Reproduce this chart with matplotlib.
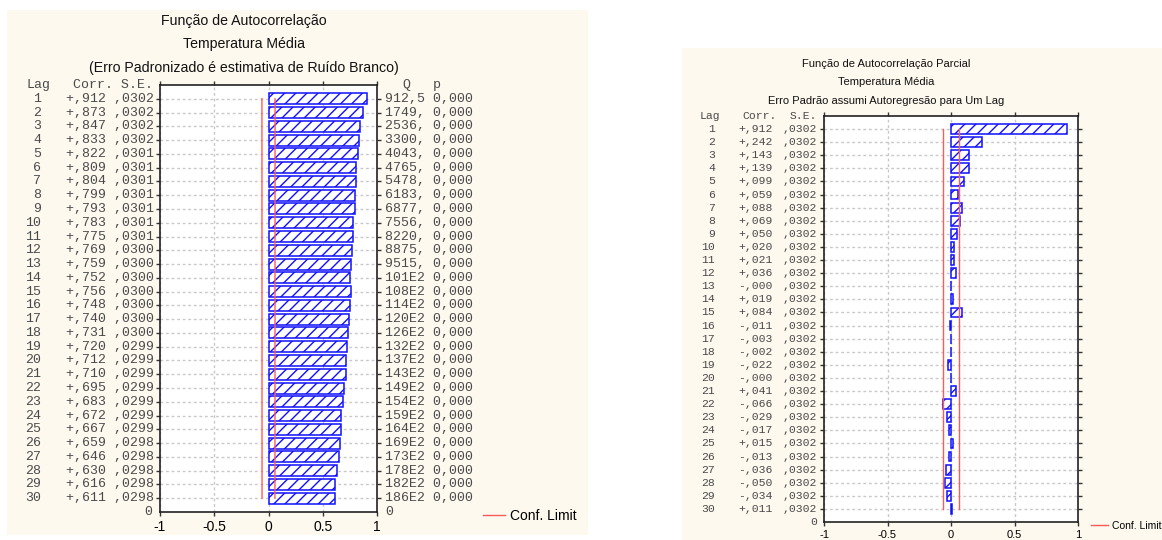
import numpy as np
import matplotlib
matplotlib.use('Agg')
import matplotlib.pyplot as plt
import matplotlib.transforms as mtrans
from matplotlib.patches import Rectangle

# ACF data (left panel)
lags = np.arange(1, 31)
acf = [.912, .873, .847, .833, .822, .809, .804, .799, .793, .783,
       .775, .769, .759, .752, .756, .748, .740, .731, .720, .712,
       .710, .695, .683, .672, .667, .659, .646, .630, .616, .611]
acf_se = [.0302] * 4 + [.0301] * 7 + [.0300] * 7 + [.0299] * 7 + [.0298] * 5
acf_q = ['912,5', '1749,', '2536,', '3300,', '4043,', '4765,', '5478,', '6183,',
         '6877,', '7556,', '8220,', '8875,', '9515,', '101E2', '108E2', '114E2',
         '120E2', '126E2', '132E2', '137E2', '143E2', '149E2', '154E2', '159E2',
         '164E2', '169E2', '173E2', '178E2', '182E2', '186E2']
acf_p = ['0,000'] * 30

# PACF data (right panel)
pacf = [.912, .242, .143, .139, .099, .059, .088, .069, .050, .020,
        .021, .036, -0.0, .019, .084, -.011, -.003, -.002, -.022, -0.0,
        .041, -.066, -.029, -.017, .015, -.013, -.036, -.050, -.034, .011]
pacf_se = [.0302] * 30

xticks = [-1, -0.5, 0, 0.5, 1]
xticklabels = ['-1', '-0.5', '0', '0.5', '1']

W, H = 1162, 540
cream = '#fdf9ee'
txtgray = '#4a4a4a'
blue = '#1010ff'
red = '#ff5a5a'
mono = 'Liberation Mono'
sans = 'Liberation Sans'
plt.rcParams['hatch.color'] = blue
plt.rcParams['hatch.linewidth'] = 1.0


def fx(x):
    return x / W


def fy(y):
    return 1 - y / H


def fmt_corr(v):
    sign = '-' if np.signbit(v) else '+'
    return sign + ('%.3f' % abs(v))[1:].replace('.', ',')


def fmt_se(v):
    return ('%.4f' % v)[1:].replace('.', ',')


fig = plt.figure(figsize=(W / 100, H / 100), dpi=100)
fig.patch.set_facecolor('white')

# cream panels
fig.patches.append(Rectangle((fx(7), fy(535)), fx(588 - 7), (535 - 10) / H,
                             transform=fig.transFigure, facecolor=cream,
                             edgecolor='none', zorder=-10))
fig.patches.append(Rectangle((fx(682), 0), fx(W - 682), (540 - 48) / H,
                             transform=fig.transFigure, facecolor=cream,
                             edgecolor='none', zorder=-10))


def make_panel(box, vals, se, bar_h, tick_fs):
    x0, y0, x1, y1 = box
    ax = fig.add_axes([fx(x0), fy(y1), fx(x1 - x0), (y1 - y0) / H])
    ax.set_facecolor('white')
    ypos = 31 - lags
    ax.barh(ypos, vals, height=bar_h, left=0, color='white', edgecolor=blue,
            hatch='///', linewidth=1.1, zorder=3)
    se = np.array(se)
    ax.plot(2 * se, ypos, color=red, lw=1, zorder=4, label='Conf. Limit')
    ax.plot(-2 * se, ypos, color=red, lw=1, zorder=4)
    ax.set_xlim(-1, 1)
    ax.set_ylim(0, 31)
    ax.set_xticks(xticks)
    ax.set_xticklabels(xticklabels, fontsize=tick_fs, family=sans)
    ax.set_yticks(ypos)
    ax.set_yticklabels([])
    ax.tick_params(direction='out', length=3, width=1, top=True, right=True,
                   color='#333333', pad=3)
    ax.grid(True, color='#c8c8c8', linestyle=(0, (2, 2)), linewidth=1, zorder=0)
    ax.set_axisbelow(True)
    for s in ax.spines.values():
        s.set_color('#222222')
        s.set_linewidth(1.2)
    return ax


# ---- Left panel: ACF ----
axL = make_panel((160, 85, 377, 512), acf, acf_se, 0.8, 10)
trL = mtrans.blended_transform_factory(fig.transFigure, axL.transData)
fsL = 9.5
for t, y in [('Função de Autocorrelação', 21), ('Temperatura Média', 44),
             ('(Erro Padronizado é estimativa de Ruído Branco)', 68)]:
    fig.text(fx(244), fy(y), t, ha='center', va='center', fontsize=10.2,
             family=sans, color='#111111')
axL.text(fx(27), 31, 'Lag', transform=trL, ha='left', va='center',
         fontsize=fsL, family=mono, color=txtgray)
axL.text(fx(73), 31, 'Corr. S.E.', transform=trL, ha='left', va='center',
         fontsize=fsL, family=mono, color=txtgray)
axL.text(fx(406), 31, 'Q', transform=trL, ha='center', va='center',
         fontsize=fsL, family=mono, color=txtgray)
axL.text(fx(437), 31, 'p', transform=trL, ha='center', va='center',
         fontsize=fsL, family=mono, color=txtgray)
for lag, c, s, q, p in zip(lags, acf, acf_se, acf_q, acf_p):
    y = 31 - lag
    axL.text(fx(41), y, str(lag), transform=trL, ha='right', va='center',
             fontsize=fsL, family=mono, color=txtgray)
    axL.text(fx(66), y, fmt_corr(c) + ' ' + fmt_se(s), transform=trL,
             ha='left', va='center', fontsize=fsL, family=mono, color=txtgray)
    axL.text(fx(385), y, q + ' ' + p, transform=trL, ha='left', va='center',
             fontsize=fsL, family=mono, color=txtgray)
axL.text(fx(152), 0, '0', transform=trL, ha='right', va='center',
         fontsize=fsL, family=mono, color=txtgray)
axL.text(fx(385), 0, '0', transform=trL, ha='left', va='center',
         fontsize=fsL, family=mono, color=txtgray)
axL.legend(loc='center left', bbox_to_anchor=(fx(470), fy(516)),
           bbox_transform=fig.transFigure, frameon=False, handlelength=1.6,
           handletextpad=0.4, prop={'family': sans, 'size': 10})

# ---- Right panel: PACF ----
axR = make_panel((824, 116, 1078, 522), pacf, pacf_se, 0.75, 8)
trR = mtrans.blended_transform_factory(fig.transFigure, axR.transData)
fsR = 8.2
for t, y in [('Função de Autocorrelação Parcial', 64), ('Temperatura Média', 82),
             ('Erro Padrão assumi Autoregresão para Um Lag', 101)]:
    fig.text(fx(886), fy(y), t, ha='center', va='center', fontsize=8,
             family=sans, color='#111111')
axR.text(fx(700), 31, 'Lag', transform=trR, ha='left', va='center',
         fontsize=fsR, family=mono, color=txtgray)
axR.text(fx(742), 31, 'Corr.', transform=trR, ha='left', va='center',
         fontsize=fsR, family=mono, color=txtgray)
axR.text(fx(817), 31, 'S.E.', transform=trR, ha='right', va='center',
         fontsize=fsR, family=mono, color=txtgray)
for lag, c, s in zip(lags, pacf, pacf_se):
    y = 31 - lag
    axR.text(fx(715), y, str(lag), transform=trR, ha='right', va='center',
             fontsize=fsR, family=mono, color=txtgray)
    axR.text(fx(773), y, fmt_corr(c), transform=trR, ha='right', va='center',
             fontsize=fsR, family=mono, color=txtgray)
    axR.text(fx(817), y, fmt_se(s), transform=trR, ha='right', va='center',
             fontsize=fsR, family=mono, color=txtgray)
axR.text(fx(817), 0, '0', transform=trR, ha='right', va='center',
         fontsize=fsR, family=mono, color=txtgray)
axR.legend(loc='center left', bbox_to_anchor=(fx(1082), fy(526)),
           bbox_transform=fig.transFigure, frameon=False, handlelength=1.6,
           handletextpad=0.4, prop={'family': sans, 'size': 7.5})

fig.savefig('out.png', dpi=100, facecolor=fig.get_facecolor())
